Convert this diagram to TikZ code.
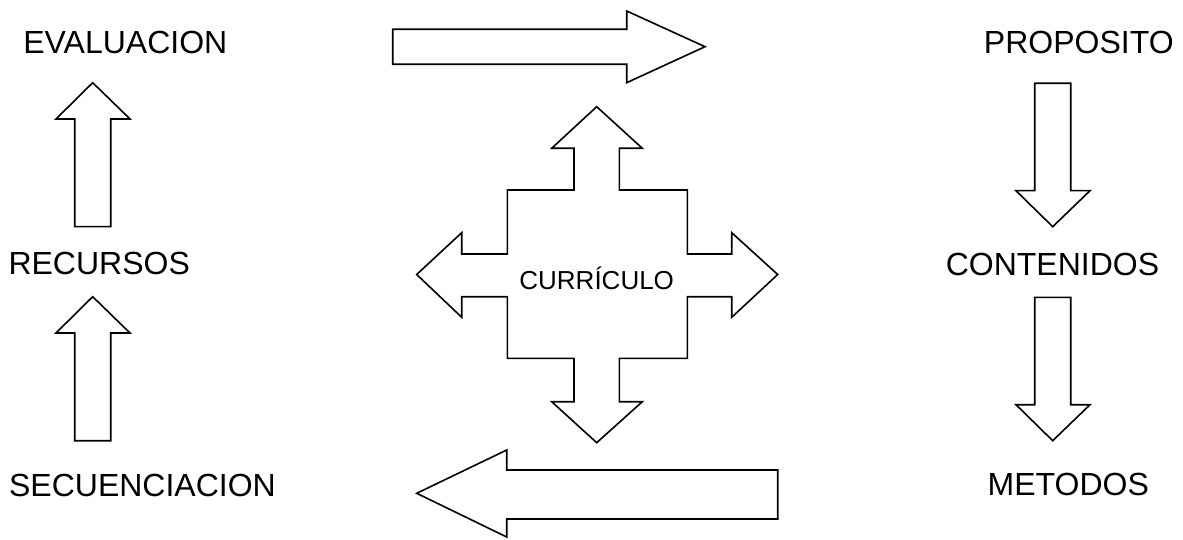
\documentclass[tikz,border=0pt]{standalone}
\usepackage{fontspec}
\setmainfont{Liberation Sans}
\tikzset{
  blockarrow/.style={draw=black, line width=1.6pt, line join=miter, fill=white},
  word/.style={anchor=base, inner sep=0pt, font=\fontsize{32}{38}\selectfont},
  center word/.style={anchor=base, inner sep=0pt, font=\fontsize{26}{31}\selectfont}
}
\begin{document}
\begin{tikzpicture}[x=1pt,y=-1pt]
    \useasboundingbox (0,0) rectangle (1183,540);

    % Labels
    \node[word] (evaluacion) at (125.3,53.3) {EVALUACION};
    \node[word] (recursos)   at (99.2,274.3) {RECURSOS};
    \node[word] (secuencia)  at (142.5,496) {SECUENCIACION};
    \node[word] (proposito)  at (1078.8,53.3) {PROPOSITO};
    \node[word] (contenidos) at (1052.5,275.7) {CONTENIDOS};
    \node[word] (metodos)    at (1068.3,495) {METODOS};

    % Up arrows on the left, down arrows on the right
    \foreach \dy in {0, 214}
    {
      \draw[blockarrow] (92.7,82.7+\dy) -- (130,119+\dy) -- (110.7,119+\dy) -- (110.7,226.7+\dy)
        -- (74.7,226.7+\dy) -- (74.7,119+\dy) -- (56,119+\dy) -- cycle;
      \draw[blockarrow] (1052.7,226.7+\dy) -- (1090,190.7+\dy) -- (1070.7,190.7+\dy) -- (1070.7,83.3+\dy)
        -- (1034.7,83.3+\dy) -- (1034.7,190.7+\dy) -- (1016,190.7+\dy) -- cycle;
    };

    % Top and bottom arrows
    \draw[blockarrow] (705,46.7) -- (626.7,11) -- (626.7,29.3) -- (392.7,29.3)
      -- (392.7,64.3) -- (626.7,64.3) -- (626.7,82.7) -- cycle;
    \draw[blockarrow] (416.7,493.3) -- (506.7,450) -- (506.7,470) -- (777.7,470)
      -- (777.7,519) -- (506.7,519) -- (506.7,537) -- cycle;

    % Four-way arrow in the middle
    \draw[blockarrow] (596.7,106.7) -- (642.3,148.3) -- (619.3,148.3) -- (619.3,190) -- (687.3,190)
      -- (687.3,254) -- (731.7,254) -- (731.7,232.7) -- (777.7,274.5) -- (731.7,317.3) -- (731.7,296.7)
      -- (687.3,296.7) -- (687.3,358.3) -- (619.3,358.3) -- (619.3,401.7) -- (642.3,401.7)
      -- (596.7,442.7) -- (551.7,401.7) -- (574,401.7) -- (574,358.3) -- (507.3,358.3)
      -- (507.3,296.7) -- (461.7,296.7) -- (461.7,317.3) -- (416.7,274.5) -- (461.7,232.7)
      -- (461.7,254) -- (507.3,254) -- (507.3,190) -- (574,190) -- (574,148.3) -- (551.7,148.3) -- cycle;
    \node[center word] (curriculo) at (596.7,289) {CURRÍCULO};

\end{tikzpicture}
\end{document}
